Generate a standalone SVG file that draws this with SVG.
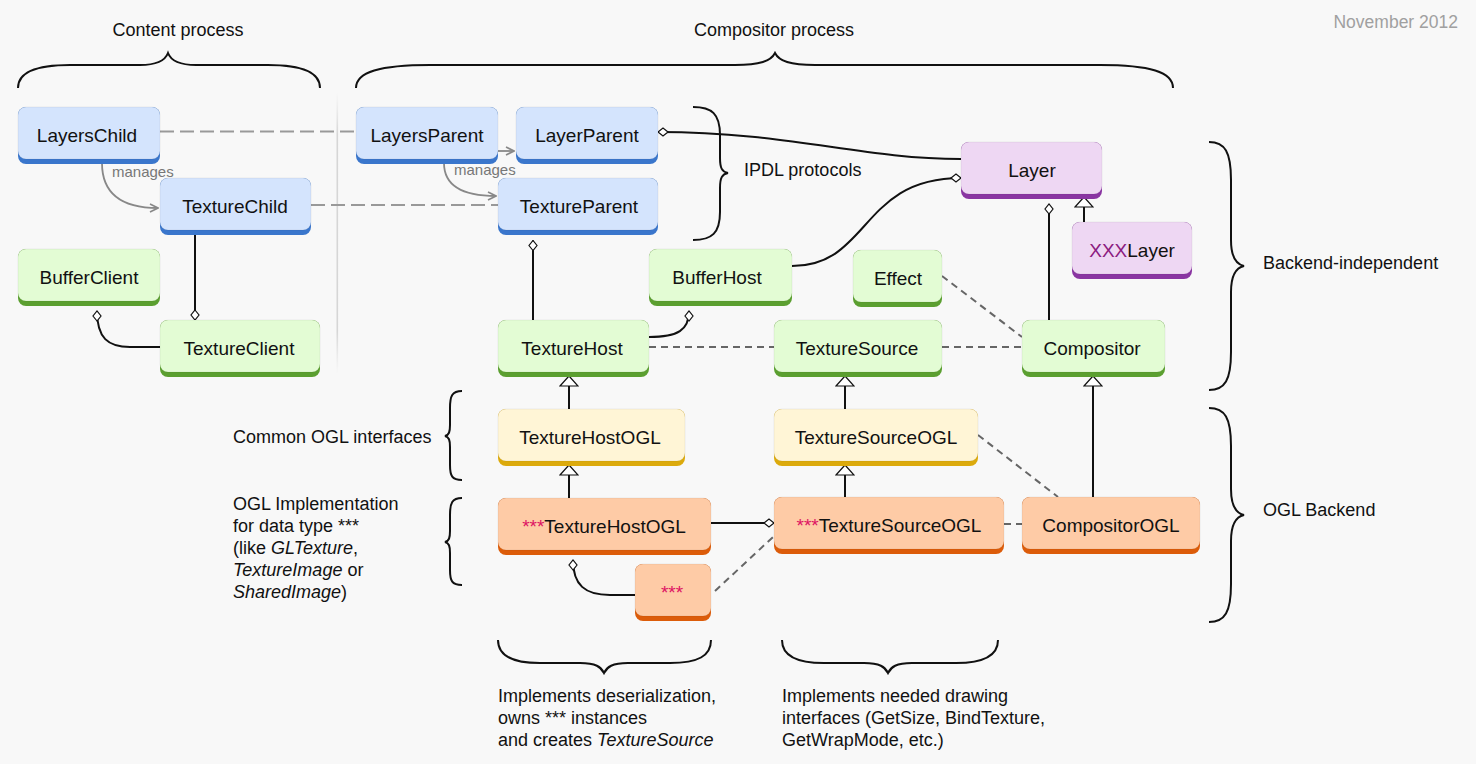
<svg xmlns="http://www.w3.org/2000/svg" width="1476" height="764" viewBox="0 0 1476 764">
<style>
text{font-family:"Liberation Sans",Arial,sans-serif;fill:#111}
.lbl{font-size:19px;text-anchor:middle}
.ann{font-size:18px}
.mg{font-size:15px;fill:#777}
.face{stroke:rgba(0,0,0,0.06);stroke-width:1}
.blue .edge{fill:#3a76cc}.blue .face{fill:#d4e4fd}
.green .edge{fill:#5b9f30}.green .face{fill:#e3fcd4}
.purple .edge{fill:#8a35a2}.purple .face{fill:#eed7f3}
.yellow .edge{fill:#dcaa0c}.yellow .face{fill:#fff5d6}
.orange .edge{fill:#dc5c0a}.orange .face{fill:#fecba6}
.star{fill:#dd1463}
.xxx{fill:#8b1a80}
.solid{fill:none;stroke:#111;stroke-width:2}
.ipdl{fill:none;stroke:#999;stroke-width:2;stroke-dasharray:14 6}
.dash{fill:none;stroke:#666;stroke-width:2;stroke-dasharray:7 5}
.mgl{fill:none;stroke:#888;stroke-width:1.8}
.brace{fill:none;stroke:#111;stroke-width:2}
</style>
<defs>
<marker id="dia" viewBox="-1 -1 12 10" refX="10" refY="4" markerWidth="12" markerHeight="10" markerUnits="userSpaceOnUse" orient="auto">
<path d="M0,4 L5,0 L10,4 L5,8 Z" fill="#fff" stroke="#111" stroke-width="1.2"/>
</marker>
<marker id="tri" viewBox="-1 -1 12 20" refX="10" refY="9" markerWidth="12" markerHeight="20" markerUnits="userSpaceOnUse" orient="auto">
<path d="M0,0 L10,9 L0,18 Z" fill="#fff" stroke="#111" stroke-width="1.2"/>
</marker>
<marker id="chev" viewBox="-1 -1 10 10" refX="8" refY="4" markerWidth="10" markerHeight="10" markerUnits="userSpaceOnUse" orient="auto">
<path d="M0,0 L8,4 L0,8" fill="none" stroke="#888" stroke-width="1.6"/>
</marker>
<linearGradient id="sepg" x1="0" y1="0" x2="0" y2="1">
<stop offset="0" stop-color="#ddd" stop-opacity="0"/>
<stop offset="0.15" stop-color="#d6d6d6"/>
<stop offset="0.85" stop-color="#d6d6d6"/>
<stop offset="1" stop-color="#ddd" stop-opacity="0"/>
</linearGradient>
</defs>
<rect width="1476" height="764" fill="#f8f8f8"/>

<rect x="336.5" y="92" width="1.6" height="282" fill="url(#sepg)"/>

<g id="annotations">
<text class="ann" x="178" y="36" text-anchor="middle">Content process</text>
<text class="ann" x="774" y="36" text-anchor="middle">Compositor process</text>
<text x="1458" y="28" text-anchor="end" style="font-size:17.5px;fill:#a0a0a0">November 2012</text>
<text class="ann" x="744" y="176">IPDL protocols</text>
<text class="ann" x="1263" y="269">Backend-independent</text>
<text class="ann" x="1263" y="516">OGL Backend</text>
<text class="ann" x="233" y="443">Common OGL interfaces</text>
<text class="ann" x="233" y="510">OGL Implementation</text>
<text class="ann" x="233" y="532">for data type ***</text>
<text class="ann" x="233" y="554">(like <tspan font-style="italic">GLTexture</tspan>,</text>
<text class="ann" x="233" y="576"><tspan font-style="italic">TextureImage</tspan> or</text>
<text class="ann" x="233" y="598"><tspan font-style="italic">SharedImage</tspan>)</text>
<text class="ann" x="498" y="702">Implements deserialization,</text>
<text class="ann" x="498" y="724">owns *** instances</text>
<text class="ann" x="498" y="746">and creates <tspan font-style="italic">TextureSource</tspan></text>
<text class="ann" x="782" y="702">Implements needed drawing</text>
<text class="ann" x="782" y="724">interfaces (GetSize, BindTexture,</text>
<text class="ann" x="782" y="746">GetWrapMode, etc.)</text>
<text class="mg" x="112" y="177">manages</text>
<text class="mg" x="454" y="175">manages</text>
</g>

<g id="braces">
<path class="brace" d="M18 88 C18 72 38 65 70 65 L140 65 C157 65 165 61 168 53 C171 61 179 65 196 65 L268 65 C300 65 320 72 320 88"/>
<path class="brace" d="M356 88 C356 72 380 65 430 65 L735 65 C760 65 771 61 775 53 C779 61 790 65 815 65 L1100 65 C1150 65 1173 72 1173 88"/>
<path class="brace" d="M498 640 C498 656 512 663 540 663 L580 663 C596 663 601 667 604 673 C607 667 612 663 628 663 L670 663 C698 663 711 656 711 640"/>
<path class="brace" d="M782 640 C782 656 796 663 824 663 L864 663 C880 663 885 667 888 673 C891 667 896 663 912 663 L956 663 C984 663 998 656 998 640"/>
<path class="brace" d="M693 107 C712 107 720 114 720 135 L720 158 C720 168 722 172 728 173 C722 174 720 178 720 188 L720 212 C720 233 712 240 693 240"/>
<path class="brace" d="M1209 142 C1225 142 1231 152 1231 180 L1231 240 C1231 256 1235 264 1244 266 C1235 268 1231 276 1231 292 L1231 352 C1231 380 1225 390 1209 390"/>
<path class="brace" d="M1209 408 C1225 408 1231 418 1231 446 L1231 489 C1231 505 1235 513 1244 515 C1235 517 1231 525 1231 541 L1231 584 C1231 612 1225 622 1209 622"/>
<path class="brace" d="M462 391 C452 391 450 396 450 408 L450 425 C450 432 449 435 445 436 C449 437 450 440 450 447 L450 465 C450 476 452 480 462 480"/>
<path class="brace" d="M462 498 C452 498 450 503 450 515 L450 531 C450 538 449 541 445 542 C449 543 450 546 450 553 L450 570 C450 581 452 585 462 585"/>
</g>

<g id="connectors">
<path class="ipdl" d="M160 131.5 L356 131.5"/>
<path class="ipdl" d="M311 205 L498 205"/>
<path class="mgl" d="M102 163 C102 196 125 208 158 208" marker-end="url(#chev)"/>
<path class="mgl" d="M444 163 C444 186 462 196 496 196" marker-end="url(#chev)"/>
<path class="mgl" d="M498 151 L514 151" marker-end="url(#chev)"/>
<path class="solid" d="M195 234 L195 320" marker-end="url(#dia)"/>
<path class="solid" d="M160 347 L130 347 C108 347 97 338 97 311" marker-end="url(#dia)"/>
<path class="solid" d="M961 159 C860 159 790 132 658 132" marker-end="url(#dia)"/>
<path class="solid" d="M792 266 C870 266 860 178 961 178" marker-end="url(#dia)"/>
<path class="solid" d="M1049 320 L1049 204" marker-end="url(#dia)"/>
<path class="solid" d="M1084 222 L1084 197" marker-end="url(#tri)"/>
<path class="solid" d="M649 337 C678 337 689 330 689 311" marker-end="url(#dia)"/>
<path class="solid" d="M533 320 L533 240.5" marker-end="url(#dia)"/>
<path class="dash" d="M649 347 L774 347"/>
<path class="dash" d="M942 347 L1022 347"/>
<path class="dash" d="M942 276 L1022 337"/>
<path class="dash" d="M978 435 L1058 497"/>
<path class="dash" d="M1004 524 L1022 524"/>
<path class="solid" d="M711 523 L774 523" marker-end="url(#dia)"/>
<path class="dash" d="M715 591 L773 537"/>
<path class="solid" d="M635 595 L610 595 C585 595 573 585 573 560" marker-end="url(#dia)"/>
<path class="solid" d="M569 409 L569 376" marker-end="url(#tri)"/>
<path class="solid" d="M569 498 L569 465" marker-end="url(#tri)"/>
<path class="solid" d="M845 409 L845 376" marker-end="url(#tri)"/>
<path class="solid" d="M845 497 L845 465" marker-end="url(#tri)"/>
<path class="solid" d="M1093 497 L1093 376" marker-end="url(#tri)"/>
</g>

<g id="LayersChild" class="node blue"><rect class="edge" x="18" y="107" width="142" height="57" rx="8"/><rect class="face" x="18" y="107" width="142" height="52" rx="8"/><text class="lbl" x="87" y="142">LayersChild</text></g>
<g id="TextureChild" class="node blue"><rect class="edge" x="160" y="178" width="151" height="57" rx="8"/><rect class="face" x="160" y="178" width="151" height="52" rx="8"/><text class="lbl" x="235" y="213">TextureChild</text></g>
<g id="BufferClient" class="node green"><rect class="edge" x="18" y="249" width="142" height="57" rx="8"/><rect class="face" x="18" y="249" width="142" height="52" rx="8"/><text class="lbl" x="89" y="284">BufferClient</text></g>
<g id="TextureClient" class="node green"><rect class="edge" x="160" y="320" width="160" height="57" rx="8"/><rect class="face" x="160" y="320" width="160" height="52" rx="8"/><text class="lbl" x="239" y="355">TextureClient</text></g>
<g id="LayersParent" class="node blue"><rect class="edge" x="356" y="107" width="142" height="57" rx="8"/><rect class="face" x="356" y="107" width="142" height="52" rx="8"/><text class="lbl" x="427" y="142">LayersParent</text></g>
<g id="LayerParent" class="node blue"><rect class="edge" x="516" y="107" width="142" height="57" rx="8"/><rect class="face" x="516" y="107" width="142" height="52" rx="8"/><text class="lbl" x="587" y="142">LayerParent</text></g>
<g id="TextureParent" class="node blue"><rect class="edge" x="498" y="178" width="160" height="57" rx="8"/><rect class="face" x="498" y="178" width="160" height="52" rx="8"/><text class="lbl" x="579" y="213">TextureParent</text></g>
<g id="BufferHost" class="node green"><rect class="edge" x="649" y="249" width="143" height="57" rx="8"/><rect class="face" x="649" y="249" width="143" height="52" rx="8"/><text class="lbl" x="717" y="284">BufferHost</text></g>
<g id="Effect" class="node green"><rect class="edge" x="853" y="250" width="89" height="57" rx="8"/><rect class="face" x="853" y="250" width="89" height="52" rx="8"/><text class="lbl" x="898" y="285">Effect</text></g>
<g id="Layer" class="node purple"><rect class="edge" x="961" y="142" width="141" height="57" rx="8"/><rect class="face" x="961" y="142" width="141" height="52" rx="8"/><text class="lbl" x="1032" y="177">Layer</text></g>
<g id="XXXLayer" class="node purple"><rect class="edge" x="1072" y="222" width="120" height="57" rx="8"/><rect class="face" x="1072" y="222" width="120" height="52" rx="8"/><text class="lbl" x="1132" y="257"><tspan class="xxx">XXX</tspan>Layer</text></g>
<g id="TextureHost" class="node green"><rect class="edge" x="498" y="320" width="151" height="57" rx="8"/><rect class="face" x="498" y="320" width="151" height="52" rx="8"/><text class="lbl" x="572" y="355">TextureHost</text></g>
<g id="TextureSource" class="node green"><rect class="edge" x="774" y="320" width="168" height="57" rx="8"/><rect class="face" x="774" y="320" width="168" height="52" rx="8"/><text class="lbl" x="857" y="355">TextureSource</text></g>
<g id="Compositor" class="node green"><rect class="edge" x="1022" y="320" width="143" height="57" rx="8"/><rect class="face" x="1022" y="320" width="143" height="52" rx="8"/><text class="lbl" x="1092" y="355">Compositor</text></g>
<g id="TextureHostOGL" class="node yellow"><rect class="edge" x="498" y="409" width="187" height="57" rx="8"/><rect class="face" x="498" y="409" width="187" height="52" rx="8"/><text class="lbl" x="590" y="444">TextureHostOGL</text></g>
<g id="TextureSourceOGL" class="node yellow"><rect class="edge" x="774" y="409" width="204" height="57" rx="8"/><rect class="face" x="774" y="409" width="204" height="52" rx="8"/><text class="lbl" x="876" y="444">TextureSourceOGL</text></g>
<g id="StarTextureHostOGL" class="node orange"><rect class="edge" x="498" y="498" width="213" height="57" rx="8"/><rect class="face" x="498" y="498" width="213" height="52" rx="8"/><text class="lbl" x="604" y="533"><tspan class="star">***</tspan>TextureHostOGL</text></g>
<g id="StarTextureSourceOGL" class="node orange"><rect class="edge" x="774" y="497" width="230" height="57" rx="8"/><rect class="face" x="774" y="497" width="230" height="52" rx="8"/><text class="lbl" x="889" y="532"><tspan class="star">***</tspan>TextureSourceOGL</text></g>
<g id="CompositorOGL" class="node orange"><rect class="edge" x="1022" y="497" width="178" height="57" rx="8"/><rect class="face" x="1022" y="497" width="178" height="52" rx="8"/><text class="lbl" x="1111" y="532">CompositorOGL</text></g>
<g id="Star" class="node orange"><rect class="edge" x="635" y="564" width="76" height="57" rx="8"/><rect class="face" x="635" y="564" width="76" height="52" rx="8"/><text class="lbl star" x="672" y="599">***</text></g>
</svg>
